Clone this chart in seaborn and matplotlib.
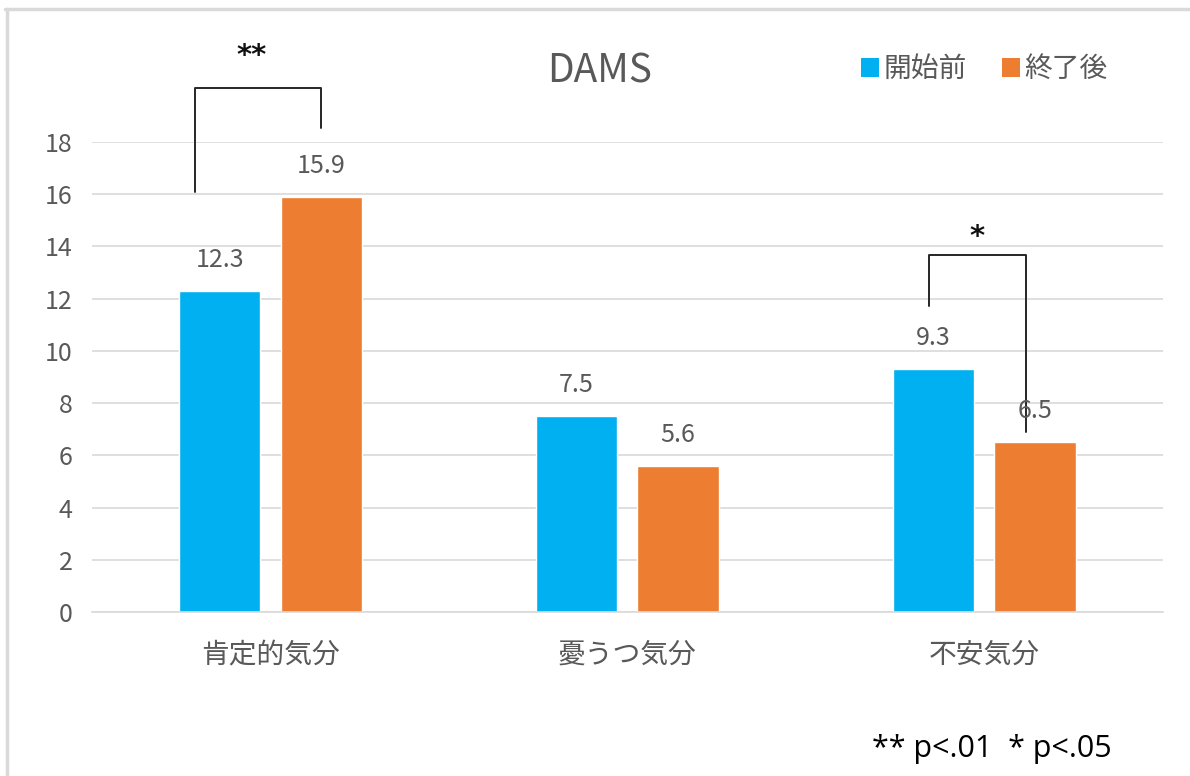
import pandas as pd
import seaborn as sns
import matplotlib.pyplot as plt
from matplotlib.lines import Line2D
from matplotlib.patches import Patch

categories = ["肯定的気分", "憂うつ気分", "不安気分"]
series_names = ["開始前", "終了後"]
before = [12.3, 7.5, 9.3]
after = [15.9, 5.6, 6.5]
colors = ["#00B0F0", "#ED7D31"]
yticks = [0, 2, 4, 6, 8, 10, 12, 14, 16, 18]
title = "DAMS"
footnote = "** p<.01  * p<.05"

df = pd.DataFrame({
    "category": categories * 2,
    "series": [series_names[0]] * 3 + [series_names[1]] * 3,
    "value": before + after,
})

sns.set_theme(style="white")
plt.rcParams["font.family"] = ["Noto Sans CJK JP", "DejaVu Sans"]
text_gray = "#595959"

fig = plt.figure(figsize=(11.9, 7.76), dpi=100)
ax = fig.add_axes([0.0773, 0.2113, 0.8997, 0.6057])

sns.barplot(data=df, x="category", y="value", hue="series",
            palette=colors, width=0.57, gap=0.2, saturation=1,
            legend=False, ax=ax)

ax.set_ylim(0, 18)
ax.set_xlim(-0.5, 2.5)
ax.set_yticks(yticks)
ax.grid(axis="y", color="#D9D9D9", linewidth=1.2)
ax.set_axisbelow(True)
for s in ["top", "right", "left"]:
    ax.spines[s].set_visible(False)
ax.spines["bottom"].set_color("#D9D9D9")
ax.spines["bottom"].set_linewidth(1.2)
ax.tick_params(axis="y", labelsize=18, colors=text_gray, length=0, pad=14)
ax.tick_params(axis="x", labelsize=20, colors=text_gray, length=0, pad=20)
ax.set_xlabel("")
ax.set_ylabel("")

for cont in ax.containers:
    ax.bar_label(cont, fmt="%.1f", padding=13, fontsize=18, color=text_gray)

# significance brackets
lc = "#262626"
star_font = ["DejaVu Sans"]
ax.plot([-0.211, -0.211, 0.141, 0.141], [16.1, 20.07, 20.07, 18.55],
        color=lc, lw=1.4, clip_on=False)
ax.text(-0.052, 21.3, "**", ha="center", va="center", fontsize=21,
        fontweight="bold", color="#111111", family=star_font, clip_on=False)
ax.plot([1.845, 1.845, 2.116, 2.116], [11.72, 13.67, 13.67, 6.9],
        color=lc, lw=1.4, clip_on=False)
ax.text(1.979, 14.35, "*", ha="center", va="center", fontsize=21,
        fontweight="bold", color="#111111", family=star_font, clip_on=False)

fig.text(0.504, 0.908, title, ha="center", va="center", fontsize=28,
         color=text_gray)

handles = [Patch(facecolor=c, edgecolor="none") for c in colors]
fig.legend(handles, series_names, loc="center right",
           bbox_to_anchor=(0.952, 0.911), ncol=2, frameon=False,
           fontsize=20, handlelength=0.65, handleheight=0.65,
           handletextpad=0.15, columnspacing=1.3, labelcolor=text_gray)

fig.text(0.8335, 0.035, footnote, ha="center", va="center", fontsize=22,
         color="black", family=["Open Sans", "DejaVu Sans"])

# light frame around the chart area (left and top edges)
fig.add_artist(Line2D([0.0055, 0.0055], [0, 0.988], color="#D9D9D9",
                      lw=2.5, transform=fig.transFigure))
fig.add_artist(Line2D([0.0045, 1], [0.988, 0.988], color="#D9D9D9",
                      lw=2.5, transform=fig.transFigure))

fig.savefig("out.png", dpi=100)
